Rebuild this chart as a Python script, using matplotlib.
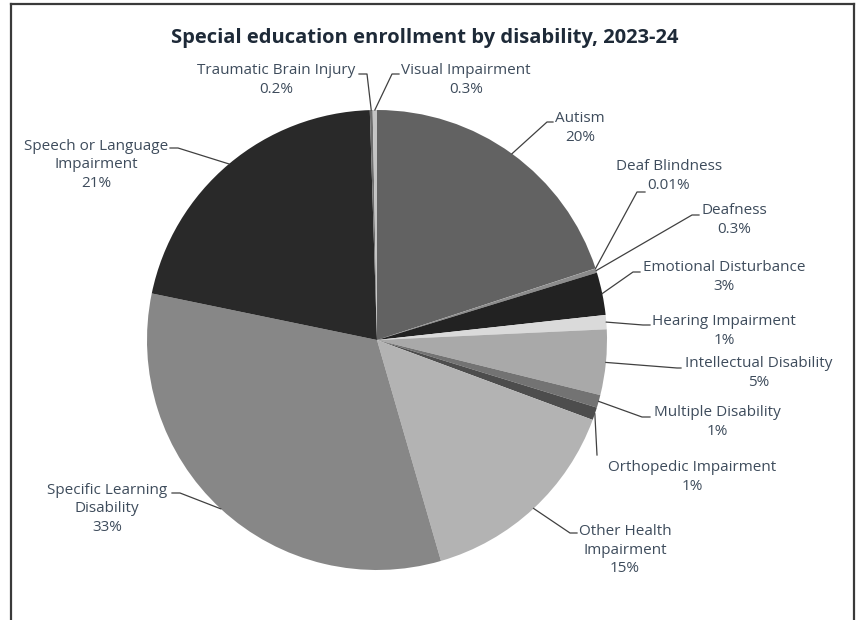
import matplotlib.pyplot as plt
from matplotlib.lines import Line2D
import numpy as np

plt.rcParams['font.family'] = ['Open Sans', 'DejaVu Sans']

# data
categories = ['Autism', 'Deaf Blindness', 'Deafness', 'Emotional Disturbance',
              'Hearing Impairment', 'Intellectual Disability', 'Multiple Disability',
              'Orthopedic Impairment', 'Other Health\nImpairment',
              'Specific Learning\nDisability', 'Speech or Language\nImpairment',
              'Traumatic Brain Injury', 'Visual Impairment']
values = [20.0, 0.01, 0.3, 3.0, 1.0, 4.6, 0.9, 0.9, 14.9, 32.8, 21.3, 0.2, 0.3]
pct_labels = ['20%', '0.01%', '0.3%', '3%', '1%', '5%', '1%', '1%', '15%',
              '33%', '21%', '0.2%', '0.3%']
colors = ['#626262', '#9a9a9a', '#8c8c8c', '#222222', '#dadada', '#a9a9a9',
          '#737373', '#4d4d4d', '#b3b3b3', '#878787', '#292929', '#6e6e6e', '#c4c4c4']

# layout in pixels: label centre, elbow of leader, end of leader
text_xy = [(580, 128), (669, 176), (734, 220), (724, 277), (724, 331), (759, 373),
           (717, 422), (692, 477), (625, 550), (107, 509), (96, 165), (276, 80), (466, 80)]
elbow_xy = [(547, 122), (637, 192), (692, 215), (633, 272), (643, 325), (677, 368),
            (642, 417), (597, 455), (570, 533), (180, 493), (178, 148), (367, 74), (392, 74)]
end_xy = [(553, 122), (645, 192), (699, 215), (640, 272), (650, 325), (681, 368),
          (650, 417), (597, 455), (577, 533), (172, 493), (170, 148), (359, 74), (399, 74)]

W, H = 857, 620
CX, CY, R = 377, 340, 230
label_color = '#3e4c5c'


def px(x, y):
    return (x - CX) / R, (CY - y) / R


fig = plt.figure(figsize=(W / 100, H / 100), dpi=100)
ax = fig.add_axes([0, 0, 1, 1])
wedges, _ = ax.pie(values, colors=colors, startangle=90, counterclock=False,
                   radius=1, wedgeprops=dict(linewidth=0))
ax.set_aspect('auto')
ax.set_xlim(-CX / R, (W - CX) / R)
ax.set_ylim(-(H - CY) / R, CY / R)
ax.axis('off')

for i, w in enumerate(wedges):
    mid = np.deg2rad((w.theta1 + w.theta2) / 2)
    x0, y0 = np.cos(mid), np.sin(mid)
    ex, ey = px(*elbow_xy[i])
    nx, ny = px(*end_xy[i])
    ax.plot([x0, ex, nx], [y0, ey, ny], color='#404040', lw=0.9)
    tx, ty = px(*text_xy[i])
    ax.text(tx, ty, categories[i] + '\n' + pct_labels[i], ha='center', va='center',
            fontsize=11, color=label_color, linespacing=1.3)

fig.text(425 / W, 1 - 38 / H, 'Special education enrollment by disability, 2023-24',
         ha='center', va='center', fontsize=14.5, fontweight='bold', color='#1e2a38')

# chart frame (bottom edge is cut off in the picture)
for xs, ys in [((10.5, 10.5), (620, 4)), ((10.5, 854), (4, 4)), ((854, 854), (4, 620))]:
    fig.add_artist(Line2D([x / W for x in xs], [1 - y / H for y in ys],
                          transform=fig.transFigure, color='#3a3a3a', lw=1.6))

fig.savefig('out.png', dpi=100)
